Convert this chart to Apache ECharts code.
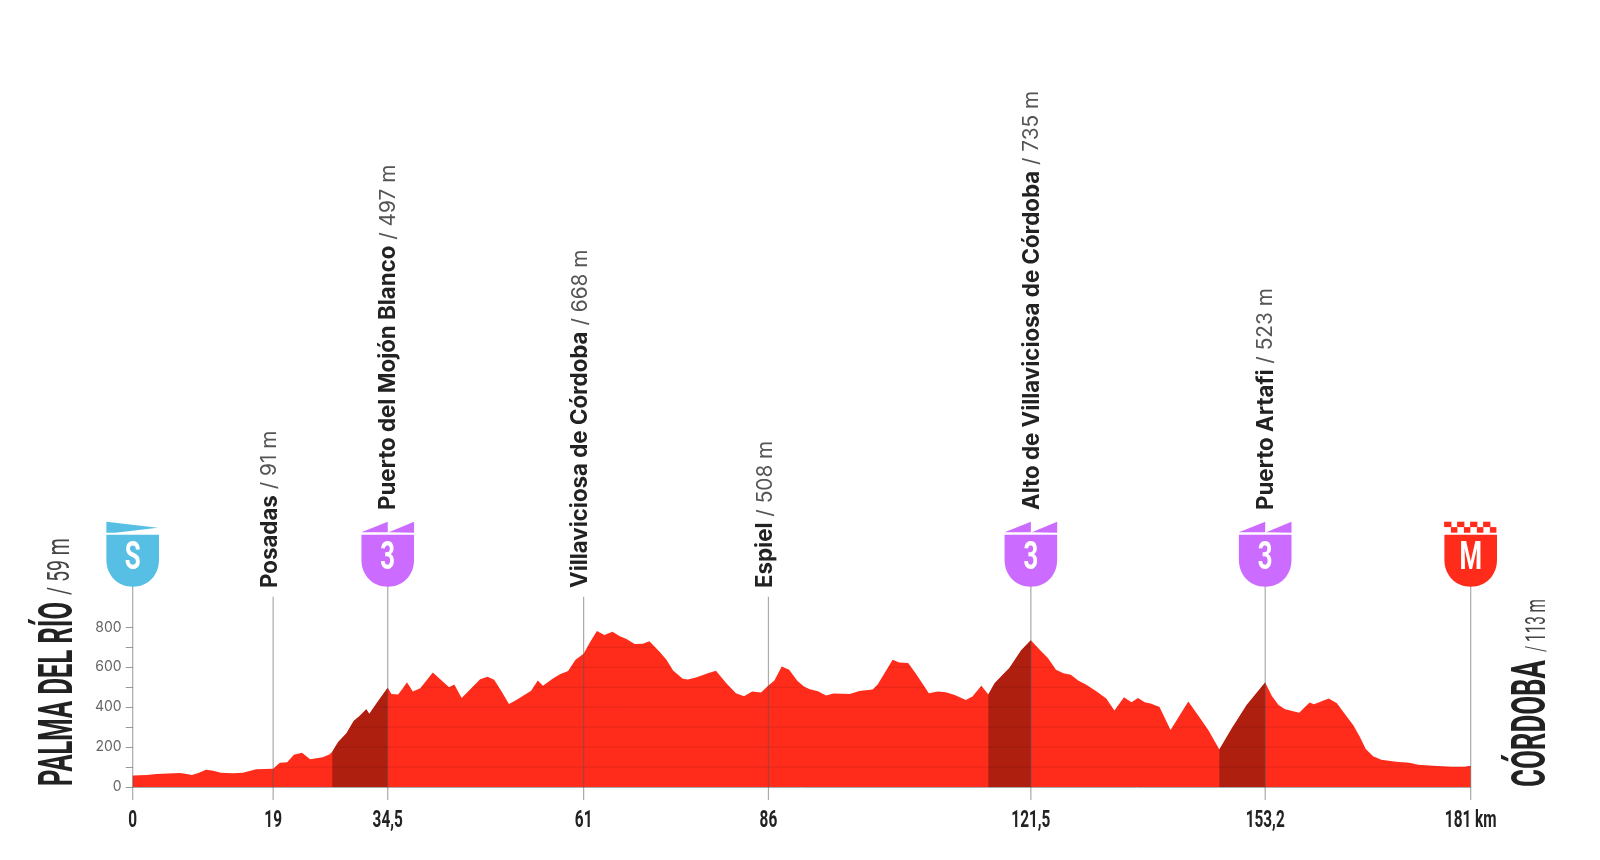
<!DOCTYPE html>
<html><head><meta charset="utf-8">
<style>html,body{margin:0;padding:0;background:#fff}#c{width:1600px;height:860px}</style>
<script src="https://cdn.jsdelivr.net/npm/echarts@6/dist/echarts.min.js"></script>
</head><body><div id="c"></div>
<script>
const kmValues=[0,1.9,3.2,6.4,7.1,8,8.9,9.9,10.9,11.9,13.6,14.9,16.7,19,19.9,20.9,21.8,22.9,24,25.7,26.6,27,27.8,28.9,29.9,30.7,31.6,32,33,34.5,35,35.9,36.5,37.1,37.9,38.9,40.6,42.8,43.5,44.5,45.5,47,48,48.9,49.9,50.9,51.9,53.9,54.8,55.5,56.9,57.8,58.9,59.9,61,61.8,62.8,63.8,64.9,65.9,66.8,67.9,69,69.9,71.3,72.2,73.1,74.4,75.1,76.2,77.8,78.9,80.3,81.6,82.7,83.8,85,86,86.8,87.8,88.8,89.9,90.8,91.6,92.7,93.8,94.8,97,98.3,100.1,100.8,102.8,103.7,104.9,106,107.7,108.9,110,111.2,112.7,113.6,114.8,115.75,116.6,117.7,118.6,120.2,121.5,122.7,123.8,124.9,125.9,126.9,127.9,129,130.4,131.7,132.8,134.1,135.1,136,136.9,137.7,138.9,140.4,142.8,144.4,145.5,147,148.7,150.7,153.2,154.1,155,155.9,157.8,159.2,159.8,161.8,162.9,164,165.1,166,166.8,167.8,168.9,170.9,172.7,173.9,175.9,178.4,180.2,181];
const elevValues=[57,60,65,70,67,60,70,86,82,72,69,72,89,91,121,124,161,171,139,149,163,176,226,268,330,356,389,366,419,497,466,463,492,525,478,495,574,500,513,446,483,540,552,537,478,416,436,482,534,507,545,565,581,638,668,721,782,762,778,755,742,716,718,730,676,638,584,542,539,549,570,582,520,470,455,478,473,508,534,604,587,532,503,490,480,458,468,466,481,488,515,638,624,621,565,470,478,475,461,436,453,507,463,520,562,596,685,735,688,646,587,570,562,534,512,478,443,383,450,425,446,425,418,401,285,428,344,285,188,294,411,523,456,411,389,372,423,414,443,419,364,310,252,190,154,136,126,121,111,107,101,101,106];
const climbRanges=[[27,34.5],[115.75,121.5],[147,153.2]];
const xTicks=[0,19,34.5,61,86,121.5,153.2,181];
const yTicks=[0,100,200,300,400,500,600,700,800];
const stationNames=["PALMA","Posadas","Puerto del Mojón Blanco","Villaviciosa de Córdoba","Espiel","Alto de Villaviciosa de Córdoba","Puerto Artafi","META"];
const stationKm=[0,19,34.5,61,86,121.5,153.2,181];
const stationAlt=["","91","497","668","508","735","523",""];
const stationBadge=["S","","3","","","3","3","M"];
const startName="PALMA DEL RÍO", startAlt="/ 59 m", endName="CÓRDOBA", endAlt="/ 113 m";

const RED='#FF2C1B',DARK='#AE1F10',PURPLE='#CC6BFF',BLUE='#56BFE3';
const profile=kmValues.map((k,i)=>[k,elevValues[i]]);
const mc=document.createElement('canvas').getContext('2d');
function fit(t,font,len){mc.font=font;return len/mc.measureText(t).width;}
function sideText(t,x,y,font,len,fill){
  return {type:'text',x:x,y:y,rotation:Math.PI/2,scaleX:fit(t,font,len),silent:true,z:20,
    style:{text:t,font:font,fill:fill,align:'left',verticalAlign:'bottom'}};
}
const shieldPath='M0 0H52.6V25C52.6 41 41 52 26.3 52C11.6 52 0 41 0 25Z';
function badge(b,cx){
  const top=521.7,c=[];
  const col=b==='S'?BLUE:b==='M'?RED:PURPLE,L=cx-26.3,R=cx+26.3;
  c.push({type:'path',shape:{pathData:shieldPath,x:L,y:534.7,width:52.6,height:52,layout:'cover'},style:{fill:col}});
  if(b==='S'){
    c.push({type:'polygon',shape:{points:[[L,top],[L+51.5,top+6],[L+9,top+11],[L,top+11]]},style:{fill:col}});
  }else if(b==='M'){
    for(let i=0;i<4;i++){
      c.push({type:'rect',shape:{x:L-0.3+13*i,y:top,width:7.3,height:5.4},style:{fill:col}});
      c.push({type:'rect',shape:{x:L+6.5+13*i,y:top+5.4,width:6.5,height:5.6},style:{fill:col}});
    }
  }else{
    c.push({type:'polygon',shape:{points:[[L,top+10.5],[cx,top],[cx,top+10.5]]},style:{fill:col}});
    c.push({type:'polygon',shape:{points:[[cx+1,top+10.5],[R,top],[R,top+11]]},style:{fill:col}});
  }
  c.push({type:'text',x:cx,y:559,scaleX:0.66,style:{text:b,font:'700 39px Roboto',fill:'#fff',align:'center',verticalAlign:'middle'}});
  return c;
}
function tickLabel(k){return String(k).replace('.',',')+(k===181?' km':'');}
function renderStation(params,api){
  const i=api.value(2),k=api.value(0),p=api.coord([k,0]),x=p[0],b=stationBadge[i];
  const ch=[{type:'line',shape:{x1:x,y1:800,x2:x,y2:b?586:596.7},style:{stroke:'rgba(85,85,85,0.5)',lineWidth:1.2}}];
  if(b) ch.push(...badge(b,x));
  if(stationAlt[i]){
    const y=b?510:588, tx=b?x+1:x-3;
    ch.push({type:'text',x:tx,y:y,rotation:Math.PI/2,style:{
      text:'{n|'+stationNames[i]+'}{a| / '+stationAlt[i]+' m}',align:'left',verticalAlign:'middle',
      rich:{n:{font:'700 22.3px Inter',fill:'#222'},a:{font:'400 20.8px Inter',fill:'#555'}}}});
  }
  ch.push({type:'text',x:x,y:821,scaleX:0.64,style:{text:tickLabel(xTicks[i]),font:'700 24px Roboto',fill:'#222',align:'center',verticalAlign:'middle'}});
  return {type:'group',children:ch};
}
function renderLevel(params,api){
  const lv=api.value(1),ch=[];
  let s=null;
  for(let j=0;j<profile.length-1;j++){
    const [k0,e0]=profile[j],[k1,e1]=profile[j+1];
    if(e0>=lv&&s===null) s=k0;
    if(e0<lv&&e1>=lv) s=k0+(lv-e0)/(e1-e0)*(k1-k0);
    if(e0>=lv&&e1<lv){
      const ke=k0+(lv-e0)/(e1-e0)*(k1-k0);
      ch.push([s,ke]);s=null;
    }
  }
  if(s!==null) ch.push([s,181]);
  return {type:'group',children:ch.map(r=>{
    const a=api.coord([r[0],lv]),b=api.coord([r[1],lv]);
    return {type:'line',shape:{x1:a[0],y1:a[1],x2:b[0],y2:b[1]},style:{stroke:'rgba(70,0,0,0.14)',lineWidth:1}};
  })};
}
const series=[{type:'line',data:profile,showSymbol:false,silent:true,z:2,lineStyle:{width:0},itemStyle:{color:RED},areaStyle:{color:RED,opacity:1}}];
climbRanges.forEach(r=>series.push({type:'line',data:profile.filter(p=>p[0]>=r[0]&&p[0]<=r[1]),showSymbol:false,silent:true,z:3,lineStyle:{width:0},itemStyle:{color:DARK},areaStyle:{color:DARK,opacity:1}}));
series.push({type:'custom',silent:true,z:4,renderItem:renderLevel,encode:{x:0,y:1},data:yTicks.slice(1).map(v=>[0,v])});
series.push({type:'custom',silent:true,z:5,clip:false,renderItem:renderStation,encode:{x:0,y:1},data:stationKm.map((k,i)=>[k,0,i])});

const chart=echarts.init(document.getElementById('c'),null,{renderer:'canvas'});
chart.setOption({
  animation:false,backgroundColor:'#fff',tooltip:{show:false},legend:{show:false},
  grid:{left:132.7,top:627.3,width:1338,height:159.7,containLabel:false},
  xAxis:{type:'value',min:0,max:181,splitLine:{show:false},
    axisLine:{show:true,onZero:true,lineStyle:{color:'#aaa',width:1}},
    axisTick:{show:false},axisLabel:{show:false}},
  yAxis:{type:'value',min:0,max:800,interval:100,splitLine:{show:false},
    axisLine:{show:false},axisTick:{show:true,length:7,lineStyle:{color:'#999',width:1}},
    axisLabel:{margin:11,fontFamily:'Inter',fontSize:14,color:'#666',formatter:v=>v%200===0?String(v):''}},
  series:series,
  graphic:{elements:[
    sideText(startName,75+9,786,'700 49px Roboto',184,'#222'),
    sideText(startAlt,71.7+5,595,'400 31px Roboto',57,'#444'),
    sideText(endName,1548+9,787,'700 49px Roboto',127,'#222'),
    sideText(endAlt,1548+4,652,'400 28px Roboto',53,'#444')
  ]}
});
</script></body></html>
